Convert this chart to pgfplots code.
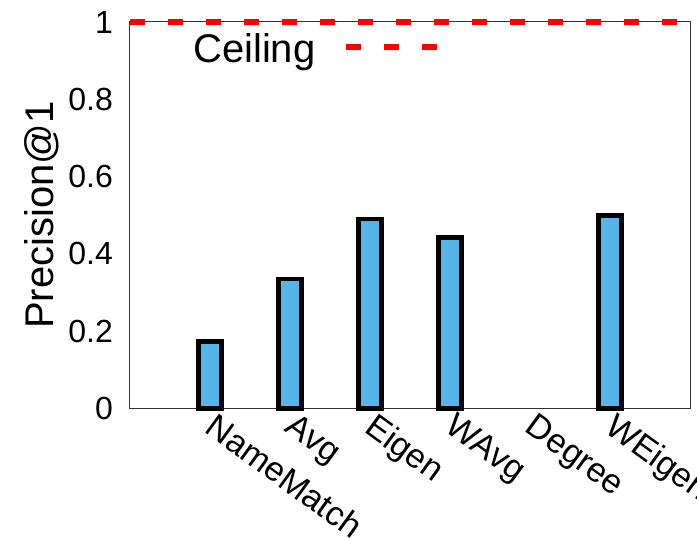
\documentclass[border=0pt]{standalone}
\usepackage{pgfplots}
\pgfplotsset{compat=1.18}
\usepackage{fontspec}
\setmainfont{Liberation Sans}
\definecolor{barblue}{RGB}{86,180,233}
\begin{document}
\begin{tikzpicture}
\begin{axis}[
  scale only axis,
  width=560pt, height=386.5pt,
  xmin=0, xmax=7, ymin=0, ymax=1,
  clip=false,
  axis line style={line width=1pt, black!80},
  xtick={1,2,3,4,5,6},
  xticklabels={NameMatch,Avg,Eigen,WAvg,Degree,WEigen},
  ytick={0,0.2,0.4,0.6,0.8,1},
  major tick length=0pt,
  /pgf/number format/assume math mode=true,
  yticklabel style={font=\fontsize{32}{36}\selectfont, anchor=east, inner sep=0pt, xshift=-17pt},
  xticklabel style={font=\fontsize{34}{40}\selectfont, rotate=-36, anchor=north west, inner sep=0pt, xshift=8pt, yshift=2pt},
  ylabel={Precision@1},
  every axis y label/.style={at={(axis description cs:-0.157,0.5)}, anchor=center, rotate=90, font=\fontsize{40}{44}\selectfont},
  legend style={at={(axis description cs:0.1125,0.932)}, anchor=west, draw=none, fill=none, inner sep=0pt,
    font=\fontsize{40}{44}\selectfont, nodes={inner sep=0pt}},
  legend plot pos=right,
  legend image code/.code={\path (0pt,0pt); \draw[#1] (27pt,1.5pt) -- (120pt,1.5pt);},
]
\addplot[ybar, bar width=22.8pt, fill=barblue, draw=black, line width=4.5pt, forget plot]
  coordinates {(1,0.173) (2,0.335) (3,0.490) (4,0.443) (6,0.499)};
\addplot[red, line width=6.5pt, dash pattern=on 15pt off 23pt]
  coordinates {(0,1) (7,1)};
\addlegendentry{Ceiling}
\coordinate (sw) at (axis description cs:0,0);
\coordinate (ne) at (axis description cs:1,1);
\end{axis}
\pgfresetboundingbox
\path ([xshift=-130pt,yshift=-128.5pt]sw) rectangle ([xshift=7pt,yshift=22pt]ne);
\end{tikzpicture}
\end{document}
